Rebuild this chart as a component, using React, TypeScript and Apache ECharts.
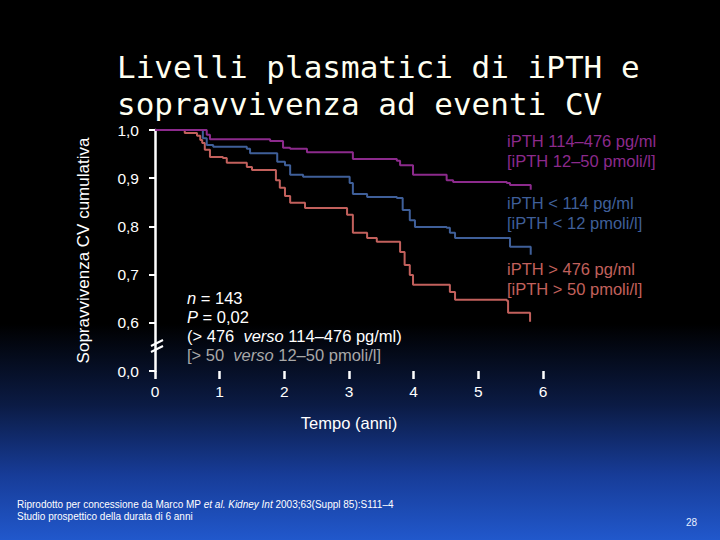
import React, { useEffect, useRef } from "react";
import * as echarts from "echarts";

const xTicks = [0, 1, 2, 3, 4, 5, 6];
const yTickLabels: Record<string, string> = { "0.5": "0,0", "0.6": "0,6", "0.7": "0,7", "0.8": "0,8", "0.9": "0,9", "1": "1,0" };

const purpleT = [0, 0.65, 0.8, 0.85, 1.78, 1.98, 2.09, 2.35, 3.01, 3.06, 3.74, 3.79, 3.99, 4.51, 4.61, 5.44, 5.49, 5.81, 5.81];
const purpleV = [1.0, 1.0, 0.99, 0.981, 0.977, 0.963, 0.961, 0.954, 0.954, 0.94, 0.936, 0.927, 0.907, 0.896, 0.892, 0.89, 0.886, 0.886, 0.876];

const blueT = [0, 0.7, 0.74, 0.8, 0.9, 1.42, 1.47, 1.82, 1.89, 2.01, 2.09, 2.29, 2.91, 3.01, 3.06, 3.28, 3.74, 3.83, 3.94, 4.02, 4.51, 4.56, 4.64, 5.44, 5.49, 5.81, 5.81];
const blueV = [1.0, 1.0, 0.983, 0.969, 0.965, 0.961, 0.952, 0.952, 0.934, 0.927, 0.907, 0.903, 0.903, 0.89, 0.867, 0.861, 0.859, 0.834, 0.813, 0.799, 0.797, 0.787, 0.776, 0.776, 0.758, 0.758, 0.741];

const redT = [0, 0.46, 0.65, 0.7, 0.73, 0.77, 0.85, 1.05, 1.11, 1.36, 1.42, 1.5, 1.81, 1.87, 1.93, 2.01, 2.09, 2.32, 2.91, 2.97, 3.06, 3.28, 3.43, 3.74, 3.79, 3.86, 3.94, 3.99, 4.51, 4.56, 4.64, 5.44, 5.46, 5.77, 5.8];
const redV = [1.0, 0.994, 0.988, 0.979, 0.973, 0.959, 0.944, 0.942, 0.932, 0.932, 0.923, 0.917, 0.917, 0.896, 0.88, 0.863, 0.849, 0.838, 0.838, 0.824, 0.787, 0.776, 0.768, 0.768, 0.747, 0.72, 0.699, 0.679, 0.679, 0.664, 0.648, 0.646, 0.621, 0.621, 0.602];

const seriesNames = ["iPTH 114–476 pg/ml", "iPTH < 114 pg/ml", "iPTH > 476 pg/ml"];
const seriesSub = ["[iPTH 12–50 pmoli/l]", "[iPTH < 12 pmoli/l]", "[iPTH > 50 pmoli/l]"];
const colors = ["#8c2a8c", "#3f5f99", "#c2605c"];

const zip = (t: number[], v: number[]) => t.map((x, i) => [x, v[i]]);

export default function App() {
  const ref = useRef<HTMLDivElement>(null);
  useEffect(() => {
    document.body.style.margin = "0";
    const chart = echarts.init(ref.current!, undefined, { renderer: "svg" });
    const font = "'Liberation Sans', Arial, sans-serif";
    const labelY = [[142, 162], [204, 224], [270, 290]];
    const fs = 16.5;
    const graphics: any[] = [
      {
        type: "text", left: 117, top: 48,
        style: { text: "Livelli plasmatici di iPTH e\nsopravvivenza ad eventi CV", fill: "#fffff0", font: "31px 'DejaVu Sans Mono', monospace", lineHeight: 37 },
      },
      // break marks
      { type: "line", shape: { x1: 151, y1: 346, x2: 163, y2: 340 }, style: { stroke: "#fff", lineWidth: 2 } },
      { type: "line", shape: { x1: 151, y1: 352, x2: 163, y2: 346 }, style: { stroke: "#fff", lineWidth: 2 } },
      {
        type: "text", left: 187, top: 288,
        style: {
          text: "{i|n} = 143\n{i|P} = 0,02\n(> 476  {i|verso} 114–476 pg/ml)\n{g|[> 50  }{gi|verso}{g| 12–50 pmoli/l]}",
          fill: "#fff", font: `${fs}px ${font}`, lineHeight: 19,
          rich: {
            i: { fontStyle: "italic", fill: "#fff", fontSize: fs, fontFamily: font },
            g: { fill: "#a8a8a8", fontSize: fs, fontFamily: font },
            gi: { fill: "#a8a8a8", fontStyle: "italic", fontSize: fs, fontFamily: font },
          },
        },
      },
      {
        type: "text", left: 17, top: 498,
        style: { text: "Riprodotto per concessione da Marco MP {i|et al. Kidney Int} 2003;63(Suppl 85):S111–4\nStudio prospettico della durata di 6 anni", fill: "#fff", font: `10px ${font}`, lineHeight: 12.5, rich: { i: { fontStyle: "italic", fill: "#fff", fontSize: 10, fontFamily: font } } },
      },
      { type: "text", left: 686, top: 517, style: { text: "28", fill: "#e8f0ff", font: `10px ${font}` } },
    ];
    seriesNames.forEach((n, i) => {
      graphics.push({ type: "text", left: 507, top: labelY[i][0] - 10, style: { text: n, fill: colors[i], font: `${fs}px ${font}` } });
      graphics.push({ type: "text", left: 507, top: labelY[i][1] - 10, style: { text: seriesSub[i], fill: colors[i], font: `${fs}px ${font}` } });
    });
    const data = [zip(purpleT, purpleV), zip(blueT, blueV), zip(redT, redV)];
    chart.setOption({
      animation: false,
      backgroundColor: {
        type: "linear", x: 0, y: 0, x2: 0, y2: 1,
        colorStops: [
          { offset: 0, color: "#000000" },
          { offset: 0.6, color: "#000000" },
          { offset: 0.75, color: "#0b1b44" },
          { offset: 0.88, color: "#173c98" },
          { offset: 1, color: "#2158cc" },
        ],
      },
      textStyle: { fontFamily: font },
      grid: { left: 155, right: 177, top: 130, bottom: 169 },
      xAxis: {
        type: "value", min: 0, max: 6, interval: 1,
        name: "Tempo (anni)", nameLocation: "middle", nameGap: 43,
        nameTextStyle: { color: "#fff", fontSize: 16.5, fontFamily: font },
        axisLine: { show: false },
        axisTick: { show: true, length: 8, inside: false, lineStyle: { color: "#fff", width: 2.5 } },
        axisLabel: { color: "#fff", fontSize: 15.5, margin: 12, formatter: (v: number) => (xTicks.includes(v) ? String(v) : "") },
        splitLine: { show: false },
      },
      yAxis: {
        type: "value", min: 0.5, max: 1.0, interval: 0.1,
        name: "Sopravvivenza CV cumulativa", nameLocation: "middle", nameGap: 63,
        nameTextStyle: { color: "#fff", fontSize: 17, fontFamily: font },
        axisLine: { show: true, onZero: false, lineStyle: { color: "#fff", width: 2.5 } },
        axisTick: { show: true, length: 6, lineStyle: { color: "#fff", width: 2 } },
        axisLabel: { color: "#fff", fontSize: 15.5, margin: 16, formatter: (v: number) => yTickLabels[String(Math.round(v * 10) / 10)] ?? "" },
        splitLine: { show: false },
      },
      series: data.map((d, i) => ({
        type: "line", name: seriesNames[i], data: d, step: "end", showSymbol: false, symbol: "none",
        lineStyle: { color: colors[i], width: 2 }, z: 3 - i,
      })),
      graphic: graphics,
    });
    return () => chart.dispose();
  }, []);
  return <div ref={ref} style={{ position: "absolute", left: 0, top: 0, width: 720, height: 540 }} />;
}
